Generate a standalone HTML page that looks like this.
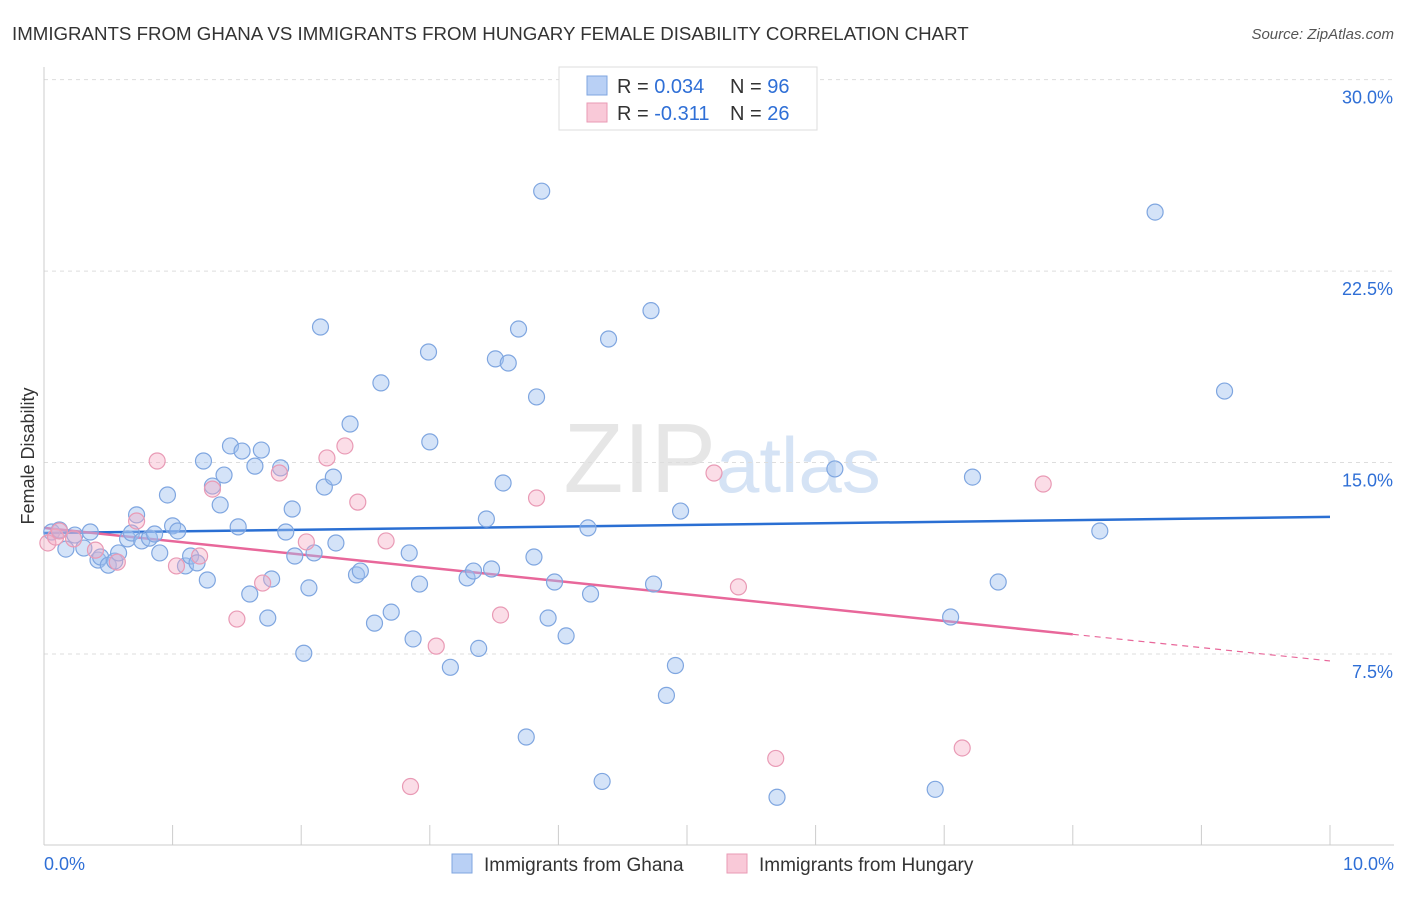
<!DOCTYPE html>
<html><head><meta charset="utf-8"><style>
body{margin:0;background:#fff;font-family:"Liberation Sans",sans-serif;}
svg text{font-family:"Liberation Sans",sans-serif;}
</style></head><body>
<svg width="1406" height="892" viewBox="0 0 1406 892">
<text x="12" y="40" font-size="18.7" fill="#333">IMMIGRANTS FROM GHANA VS IMMIGRANTS FROM HUNGARY FEMALE DISABILITY CORRELATION CHART</text>
<text x="1394" y="39" font-size="15" fill="#555" font-style="italic" text-anchor="end">Source: ZipAtlas.com</text>
<text x="716" y="492" font-size="98" fill="#e6e6e6" font-family="Liberation Serif" text-anchor="end">ZIP</text>
<text x="716" y="492" font-size="78" fill="#d5e3f5">atlas</text>
<g id="grid"></g>
<g id="axes"></g>
<g id="lines"></g>
<g id="pts"></g>
<text transform="translate(34,456) rotate(-90)" font-size="18" fill="#333" text-anchor="middle">Female Disability</text>
<g>
<rect x="559" y="67" width="258" height="63" fill="#fff" stroke="#ddd"/>
<rect x="587" y="76" width="20" height="19" fill="#b9d0f5" stroke="#7fa6e0"/>
<rect x="587" y="103" width="20" height="19" fill="#f9c9d8" stroke="#e99ab5"/>
<text x="617" y="93" font-size="20" fill="#333">R = <tspan fill="#2f6fd6">0.034</tspan><tspan x="730">N = </tspan><tspan fill="#2f6fd6">96</tspan></text>
<text x="617" y="120" font-size="20" fill="#333">R = <tspan fill="#2f6fd6">-0.311</tspan><tspan x="730">N = </tspan><tspan fill="#2f6fd6">26</tspan></text>
</g>
<g>
<rect x="452" y="854" width="20" height="19" fill="#b9d0f5" stroke="#7fa6e0"/>
<text x="484" y="871" font-size="19" fill="#333">Immigrants from Ghana</text>
<rect x="727" y="854" width="20" height="19" fill="#f9c9d8" stroke="#e99ab5"/>
<text x="759" y="871" font-size="19" fill="#333">Immigrants from Hungary</text>
</g>
</svg>
<script>
const yTicks=[7.5,15,22.5,30];
const yTickLabels=["7.5%","15.0%","22.5%","30.0%"];
const xTicks=[0,1,2,3,4,5,6,7,8,9,10];
const xTickLabels=["0.0%","10.0%"];
const ghanaX=[0.06,0.12,0.17,0.24,0.36,0.31,0.42,0.44,0.50,0.55,0.58,0.65,0.68,0.72,0.76,0.82,0.86,0.90,0.96,1.00,1.04,1.10,1.14,1.19,1.24,1.27,1.31,1.37,1.40,1.45,1.51,1.54,1.60,1.64,1.69,1.74,1.77,1.84,1.88,1.93,1.95,2.02,2.06,2.10,2.15,2.18,2.25,2.27,2.38,2.43,2.46,2.57,2.62,2.70,2.84,2.87,2.92,2.99,3.00,3.16,3.29,3.34,3.38,3.44,3.48,3.51,3.57,3.61,3.69,3.75,3.81,3.83,3.87,3.92,3.97,4.06,4.23,4.25,4.34,4.39,4.72,4.74,4.84,4.91,4.95,5.70,6.15,6.93,7.05,7.22,7.42,8.21,8.64,9.18];
const ghanaY=[12.28,12.36,11.61,12.16,12.28,11.65,11.18,11.30,10.98,11.14,11.46,12.01,12.24,12.95,11.93,12.04,12.20,11.46,13.73,12.52,12.32,10.95,11.34,11.07,15.06,10.40,14.08,13.34,14.51,15.65,12.48,15.45,9.85,14.86,15.49,8.91,10.44,14.79,12.28,13.18,11.34,7.53,10.09,11.46,20.31,14.04,14.43,11.85,16.51,10.60,10.75,8.71,18.12,9.14,11.46,8.09,10.24,19.33,15.81,6.98,10.48,10.75,7.72,12.79,10.83,19.06,14.20,18.90,20.23,4.25,11.30,17.57,25.63,8.91,10.32,8.21,12.44,9.85,2.51,19.84,20.95,10.24,5.88,7.05,13.10,1.89,14.75,2.20,8.95,14.43,10.32,12.32,24.81,17.80];
const hungX=[0.03,0.09,0.12,0.23,0.40,0.57,0.72,0.88,1.03,1.21,1.31,1.50,1.70,1.83,2.04,2.20,2.34,2.44,2.66,2.85,3.05,3.55,3.83,5.21,5.40,5.69,7.14,7.77];
const hungY=[11.85,12.08,12.32,12.01,11.57,11.10,12.71,15.06,10.95,11.34,13.96,8.87,10.28,14.59,11.89,15.18,15.65,13.45,11.93,2.31,7.81,9.03,13.61,14.59,10.13,3.41,3.82,14.16];
const ghanaTrend=[12.24,12.87];
const hungTrend=[12.44,7.23];
const hungSolidEnd=8.0;
const X=v=>44+v*128.6, Y=v=>845.5-v*25.53;
const NS="http://www.w3.org/2000/svg";
function mk(t,a,p){const e=document.createElementNS(NS,t);for(const k in a)e.setAttribute(k,a[k]);p.appendChild(e);return e;}
const grid=document.getElementById('grid'),axes=document.getElementById('axes'),lines=document.getElementById('lines'),pts=document.getElementById('pts');
yTicks.forEach((t,i)=>{
 const l=mk('line',{x1:44,x2:1394,y1:Y(t),y2:Y(t),stroke:'#ddd','stroke-dasharray':'4,4'},grid);
 
 
 const tx=mk('text',{x:1393,y:Y(t)+24,'font-size':18,fill:'#2f6fd6','text-anchor':'end'},axes);
 tx.textContent=yTickLabels[i];
 
 
});
const ax=mk('line',{x1:44,x2:1394,y1:845,y2:845,stroke:'#ccc'},axes);


const ay=mk('line',{x1:44,x2:44,y1:67,y2:845,stroke:'#ccc'},axes);


xTicks.forEach(t=>{
 const l=mk('line',{x1:X(t),x2:X(t),y1:825,y2:845,stroke:'#ccc'},axes);
 
 
});
const xl0=mk('text',{x:44,y:870,'font-size':18,fill:'#2f6fd6'},axes);xl0.textContent=xTickLabels[0];


const xl1=mk('text',{x:1394,y:870,'font-size':18,fill:'#2f6fd6','text-anchor':'end'},axes);xl1.textContent=xTickLabels[1];


ghanaX.forEach((v,i)=>{
 const c=mk('circle',{cx:X(v),cy:Y(ghanaY[i]),r:8,fill:'rgba(160,192,240,0.45)',stroke:'#7fa6e0','stroke-width':1.2},pts);
 
 
});
hungX.forEach((v,i)=>{
 const c=mk('circle',{cx:X(v),cy:Y(hungY[i]),r:8,fill:'rgba(245,170,195,0.4)',stroke:'#e99ab5','stroke-width':1.2},pts);
 
 
});
const bl=mk('line',{x1:X(0),y1:Y(ghanaTrend[0]),x2:X(10),y2:Y(ghanaTrend[1]),stroke:'#2a6fd3','stroke-width':2.5},lines);


const hAt=v=>hungTrend[0]+(hungTrend[1]-hungTrend[0])*v/10;
const pl=mk('line',{x1:X(0),y1:Y(hAt(0)),x2:X(hungSolidEnd),y2:Y(hAt(hungSolidEnd)),stroke:'#e8679a','stroke-width':2.5},lines);


const pd=mk('line',{x1:X(hungSolidEnd),y1:Y(hAt(hungSolidEnd)),x2:X(10),y2:Y(hAt(10)),stroke:'#e8679a','stroke-width':1.2,'stroke-dasharray':'6,5'},lines);


</script>
</body></html>
